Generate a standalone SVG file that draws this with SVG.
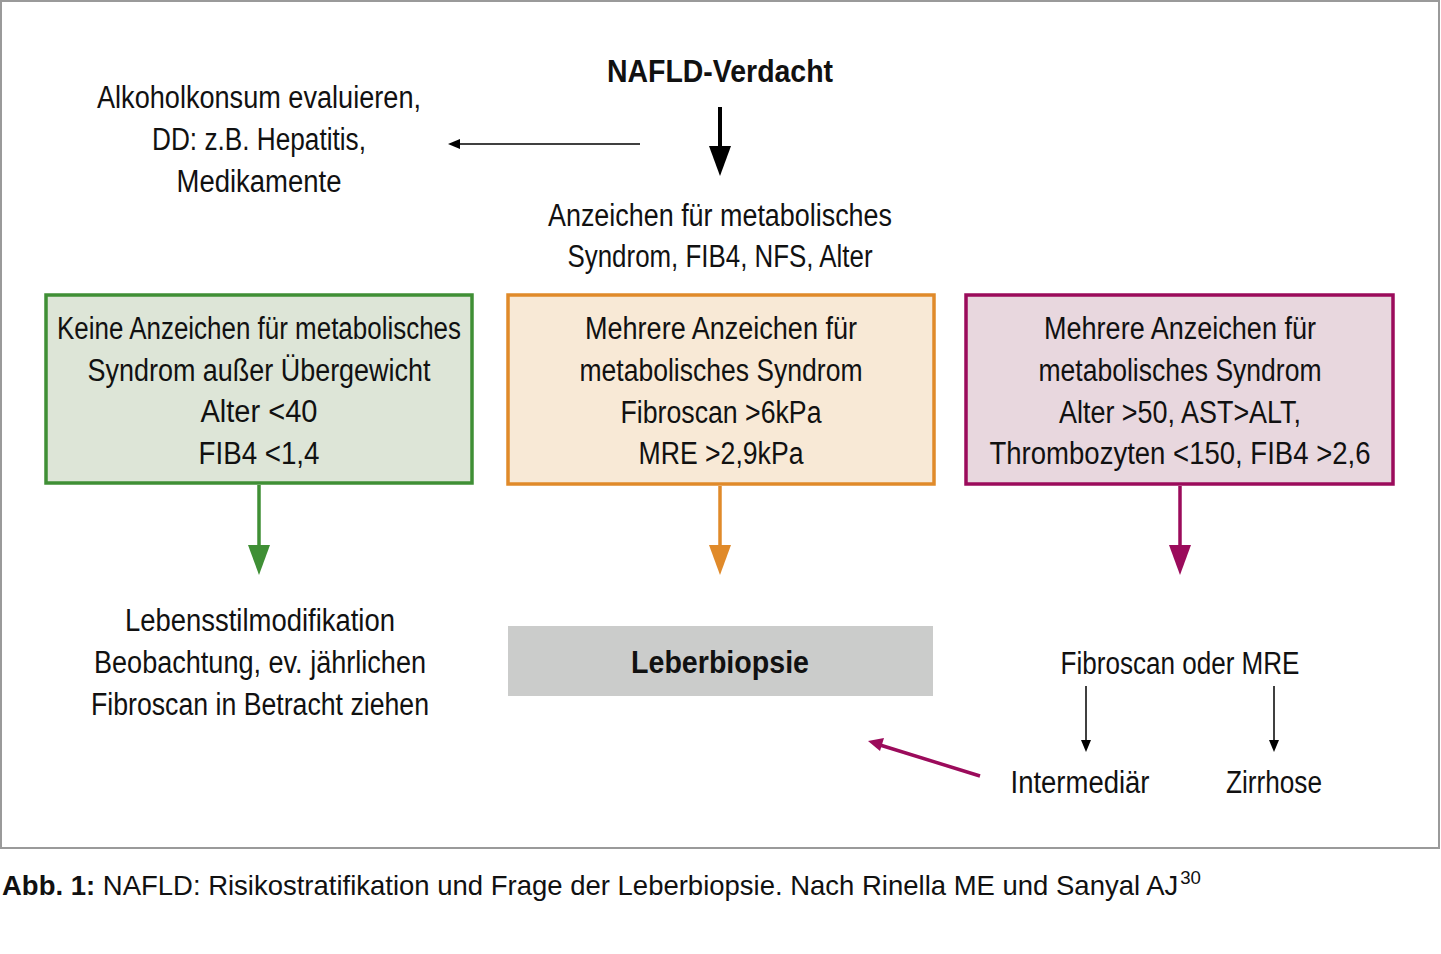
<svg xmlns="http://www.w3.org/2000/svg" width="1441" height="954" viewBox="0 0 1441 954">
<style>
text{font-family:"Liberation Sans",Arial,sans-serif;fill:#111;text-anchor:middle;font-size:31px}
.b{font-weight:bold}
.cap{text-anchor:start;font-size:28px}
</style>
<rect x="1" y="1" width="1438" height="847" fill="#fff" stroke="#9a9a9a" stroke-width="2"/>
<g id="nafld"><text class="b" x="720" y="82" textLength="226" lengthAdjust="spacingAndGlyphs">NAFLD-Verdacht</text></g>
<g id="alkohol">
<text x="259" y="108" textLength="324" lengthAdjust="spacingAndGlyphs">Alkoholkonsum evaluieren,</text>
<text x="259" y="150" textLength="214" lengthAdjust="spacingAndGlyphs">DD: z.B. Hepatitis,</text>
<text x="259" y="192" textLength="165" lengthAdjust="spacingAndGlyphs">Medikamente</text>
</g>
<g id="anzeichen">
<text x="720" y="226" textLength="344" lengthAdjust="spacingAndGlyphs">Anzeichen für metabolisches</text>
<text x="720" y="267" textLength="305" lengthAdjust="spacingAndGlyphs">Syndrom, FIB4, NFS, Alter</text>
</g>
<g id="green">
<rect x="46" y="295" width="426" height="188" fill="#dde5d7" stroke="#3f8f35" stroke-width="3.5"/>
<text x="259" y="339" textLength="404" lengthAdjust="spacingAndGlyphs">Keine Anzeichen für metabolisches</text>
<text x="259" y="381" textLength="343" lengthAdjust="spacingAndGlyphs">Syndrom außer Übergewicht</text>
<text x="259" y="422" textLength="117" lengthAdjust="spacingAndGlyphs">Alter &lt;40</text>
<text x="259" y="464" textLength="121" lengthAdjust="spacingAndGlyphs">FIB4 &lt;1,4</text>
</g>
<g id="orange">
<rect x="508" y="295" width="426" height="189" fill="#f8e9d6" stroke="#e08a2a" stroke-width="3.5"/>
<text x="721" y="339" textLength="272" lengthAdjust="spacingAndGlyphs">Mehrere Anzeichen für</text>
<text x="721" y="381" textLength="283" lengthAdjust="spacingAndGlyphs">metabolisches Syndrom</text>
<text x="721" y="423" textLength="201" lengthAdjust="spacingAndGlyphs">Fibroscan &gt;6kPa</text>
<text x="721" y="464" textLength="165" lengthAdjust="spacingAndGlyphs">MRE &gt;2,9kPa</text>
</g>
<g id="purple">
<rect x="966" y="295" width="427" height="189" fill="#e8d7de" stroke="#9b0b5b" stroke-width="3.5"/>
<text x="1180" y="339" textLength="272" lengthAdjust="spacingAndGlyphs">Mehrere Anzeichen für</text>
<text x="1180" y="381" textLength="283" lengthAdjust="spacingAndGlyphs">metabolisches Syndrom</text>
<text x="1180" y="423" textLength="242" lengthAdjust="spacingAndGlyphs">Alter &gt;50, AST&gt;ALT,</text>
<text x="1180" y="464" textLength="381" lengthAdjust="spacingAndGlyphs">Thrombozyten &lt;150, FIB4 &gt;2,6</text>
</g>
<g id="lebensstil">
<text x="260" y="631" textLength="270" lengthAdjust="spacingAndGlyphs">Lebensstilmodifikation</text>
<text x="260" y="673" textLength="332" lengthAdjust="spacingAndGlyphs">Beobachtung, ev. jährlichen</text>
<text x="260" y="715" textLength="338" lengthAdjust="spacingAndGlyphs">Fibroscan in Betracht ziehen</text>
</g>
<g id="biopsie">
<rect x="508" y="626" width="425" height="70" fill="#cbcccb"/>
<text class="b" x="720" y="673" textLength="178" lengthAdjust="spacingAndGlyphs">Leberbiopsie</text>
</g>
<g id="fibroscan"><text x="1180" y="674" textLength="239" lengthAdjust="spacingAndGlyphs">Fibroscan oder MRE</text></g>
<g id="intermediar"><text x="1080" y="793" textLength="139" lengthAdjust="spacingAndGlyphs">Intermediär</text></g>
<g id="zirrhose"><text x="1274" y="793" textLength="96" lengthAdjust="spacingAndGlyphs">Zirrhose</text></g>
<g id="connectors">
<line x1="720" y1="107" x2="720" y2="146" stroke="#000" stroke-width="4"/>
<path d="M709,146 L731,146 L720,176Z" fill="#000"/>
<line x1="640" y1="144" x2="460" y2="144" stroke="#000" stroke-width="1.5"/>
<path d="M460,139 L460,149 L448,144Z" fill="#000"/>
<line x1="259" y1="485" x2="259" y2="546" stroke="#3f8f35" stroke-width="3.5"/>
<path d="M248,545 L270,545 L259,575Z" fill="#3f8f35"/>
<line x1="720" y1="486" x2="720" y2="546" stroke="#e08a2a" stroke-width="3.5"/>
<path d="M709,545 L731,545 L720,575Z" fill="#e08a2a"/>
<line x1="1180" y1="486" x2="1180" y2="546" stroke="#9b0b5b" stroke-width="3.5"/>
<path d="M1169,545 L1191,545 L1180,575Z" fill="#9b0b5b"/>
<line x1="1086" y1="686" x2="1086" y2="741" stroke="#000" stroke-width="1.5"/>
<path d="M1081,740 L1091,740 L1086,752Z" fill="#000"/>
<line x1="1274" y1="686" x2="1274" y2="741" stroke="#000" stroke-width="1.5"/>
<path d="M1269,740 L1279,740 L1274,752Z" fill="#000"/>
<line x1="980" y1="776" x2="880" y2="745" stroke="#9b0b5b" stroke-width="3.5"/>
<path d="M868,741 L884,738 L880,751Z" fill="#9b0b5b"/>
</g>
<g id="caption">
<text class="cap" x="2" y="895" textLength="1199" lengthAdjust="spacingAndGlyphs"><tspan font-weight="bold">Abb. 1:</tspan> NAFLD: Risikostratifikation und Frage der Leberbiopsie. Nach Rinella ME und Sanyal AJ<tspan dx="2" dy="-11" font-size="19">30</tspan></text>
</g>
</svg>
